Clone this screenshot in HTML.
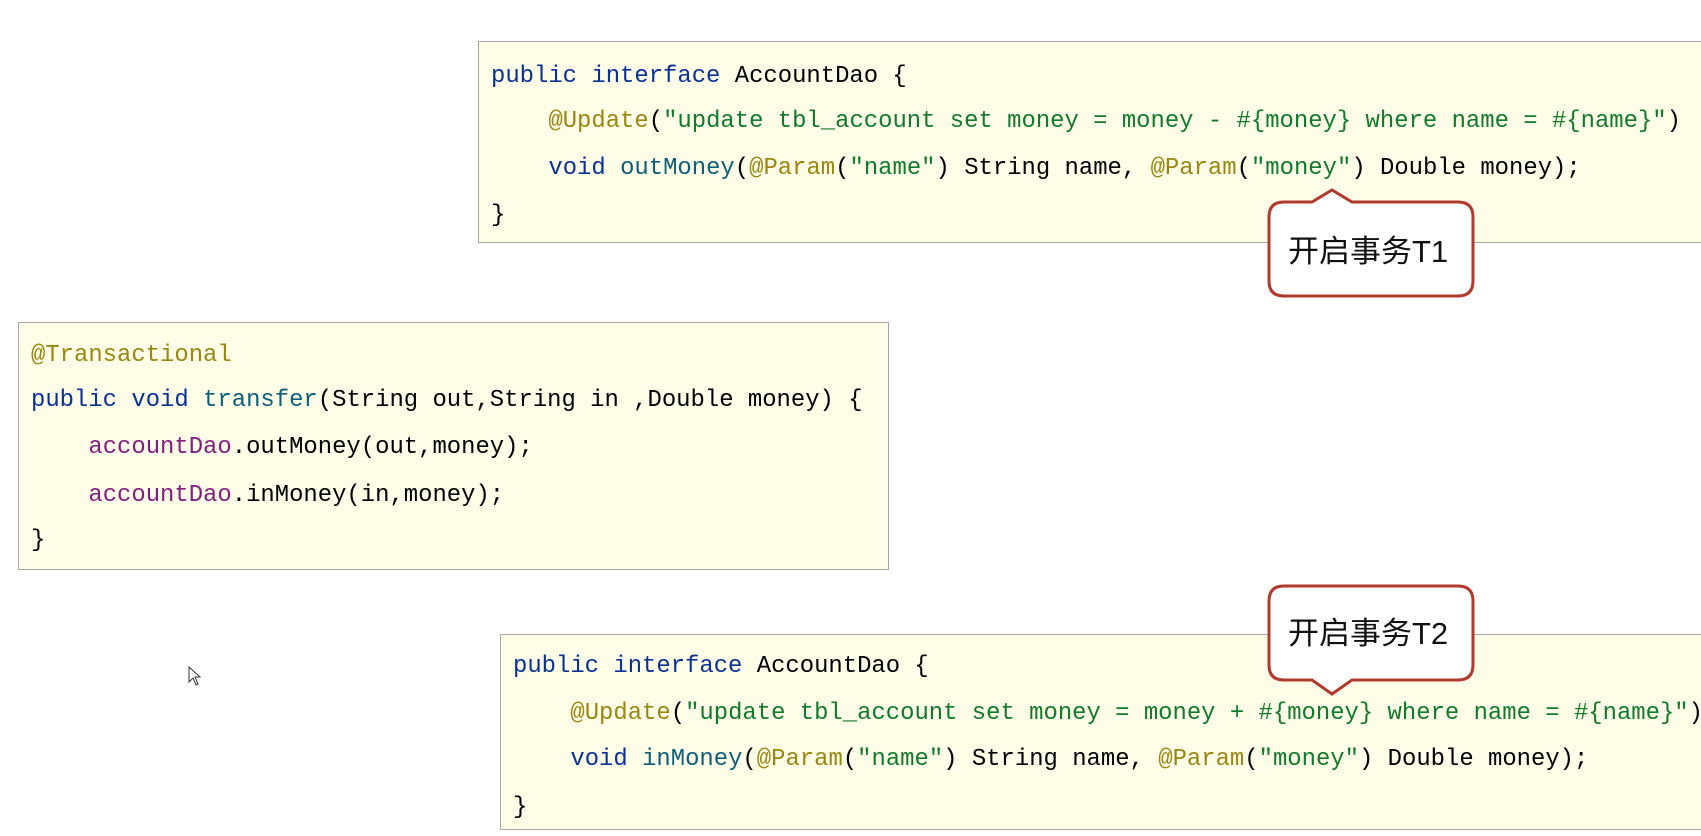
<!DOCTYPE html>
<html><head><meta charset="utf-8"><style>
body{margin:0;width:1701px;height:836px;background:#fff;position:relative;overflow:hidden;font-family:"Liberation Mono",monospace;}
.box{position:absolute;background:#fefde8;border:1px solid #a6a6a6;box-sizing:border-box;}
.l{position:absolute;white-space:pre;font-size:23.9px;line-height:30px;color:#000;}
.k{color:#0b3192}.a{color:#9a8612}.s{color:#127a2a}.m{color:#0e5e78}.p{color:#83207f}
.ct{position:absolute;font-family:"Liberation Sans","Noto Sans CJK SC",sans-serif;font-size:31px;line-height:36px;color:#111;}
</style></head><body>
<div class="box" style="left:478px;top:41px;width:1240px;height:202px"></div>
<div class="l" style="left:491px;top:62px"><span class="k">public interface</span> AccountDao {</div>
<div class="l" style="left:491px;top:107px">    <span class="a">@Update</span>(<span class="s">"update tbl_account set money = money - #{money} where name = #{name}"</span>)</div>
<div class="l" style="left:491px;top:154px">    <span class="k">void</span> <span class="m">outMoney</span>(<span class="a">@Param</span>(<span class="s">"name"</span>) String name, <span class="a">@Param</span>(<span class="s">"money"</span>) Double money);</div>
<div class="l" style="left:491px;top:201px">}</div>

<div class="box" style="left:18px;top:322px;width:871px;height:248px"></div>
<div class="l" style="left:31px;top:341px"><span class="a">@Transactional</span></div>
<div class="l" style="left:31px;top:386px"><span class="k">public void</span> <span class="m">transfer</span>(String out,String in ,Double money) {</div>
<div class="l" style="left:31px;top:433px">    <span class="p">accountDao</span>.outMoney(out,money);</div>
<div class="l" style="left:31px;top:481px">    <span class="p">accountDao</span>.inMoney(in,money);</div>
<div class="l" style="left:31px;top:526px">}</div>

<div class="box" style="left:500px;top:634px;width:1240px;height:196px"></div>
<div class="l" style="left:513px;top:652px"><span class="k">public interface</span> AccountDao {</div>
<div class="l" style="left:513px;top:699px">    <span class="a">@Update</span>(<span class="s">"update tbl_account set money = money + #{money} where name = #{name}"</span>)</div>
<div class="l" style="left:513px;top:745px">    <span class="k">void</span> <span class="m">inMoney</span>(<span class="a">@Param</span>(<span class="s">"name"</span>) String name, <span class="a">@Param</span>(<span class="s">"money"</span>) Double money);</div>
<div class="l" style="left:513px;top:793px">}</div>

<svg width="1701" height="836" style="position:absolute;left:0;top:0">
<path d="M1284 202 L1312 202 L1332 190 L1352 202 L1458 202 Q1473 202 1473 217 L1473 281 Q1473 296 1458 296 L1284 296 Q1269 296 1269 281 L1269 217 Q1269 202 1284 202 Z" fill="#fff" stroke="#b03a2e" stroke-width="3"/>
<path d="M1284 586 L1458 586 Q1473 586 1473 601 L1473 665 Q1473 680 1458 680 L1352 680 L1332 694 L1312 680 L1284 680 Q1269 680 1269 665 L1269 601 Q1269 586 1284 586 Z" fill="#fff" stroke="#b03a2e" stroke-width="3"/>
<path d="M189 667 L189 682 L193 678 L196 685 L198 684 L195 677 L200 677 Z" fill="#fff" stroke="#333" stroke-width="1"/>
</svg>
<div class="ct" style="left:1288px;top:234px">开启事务T1</div>
<div class="ct" style="left:1288px;top:616px">开启事务T2</div>
</body></html>
